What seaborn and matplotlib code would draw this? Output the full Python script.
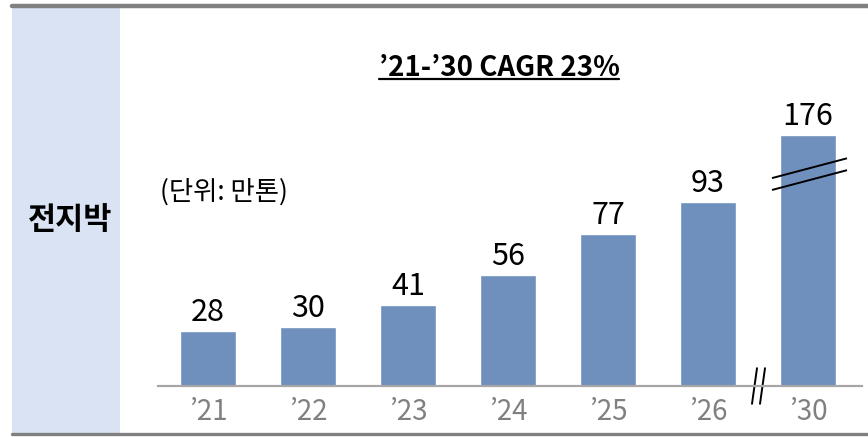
import matplotlib
matplotlib.use("Agg")
import matplotlib.pyplot as plt
import seaborn as sns
import pandas as pd
from matplotlib.lines import Line2D
from matplotlib.patches import Rectangle

# chart data
years = ["\u201921", "\u201922", "\u201923", "\u201924", "\u201925", "\u201926", "\u201930"]
values = [28, 30, 41, 56, 77, 93, 176]
break_height = 127  # drawn height of the broken '30 bar
title = "\u201921-\u201930 CAGR 23%"
unit_label = "(단위: 만톤)"
side_label = "전지박"

sns.set_theme(style="white")
plt.rcParams['font.family'] = ['Noto Sans CJK KR', 'DejaVu Sans']

df = pd.DataFrame({"year": years, "value": values})
df["shown"] = df["value"].clip(upper=break_height)

W, H = 868, 437
fig = plt.figure(figsize=(W / 100, H / 100), dpi=100)

# left label panel and frame lines
fig.patches.append(Rectangle((12 / W, 4 / H), 108 / W, 426 / H, transform=fig.transFigure,
                             facecolor="#DAE3F3", edgecolor="none", zorder=0))
fig.add_artist(Line2D([12 / W, 1], [1 - 6 / H] * 2, color="#808080", lw=3.2))
fig.add_artist(Line2D([12 / W, 1], [1 - 434 / H] * 2, color="#808080", lw=2.4))
fig.text(70 / W, 1 - 220 / H, side_label, ha="center", va="center",
         fontsize=22, fontweight="bold", color="black")

ax = fig.add_axes([158 / W, 51 / H, 704 / W, 326 / H])
sns.barplot(data=df, x="year", y="shown", color="#6F8FBD", saturation=1,
            width=0.56, ax=ax)
ax.set_xlim(-0.5, 6.54)
ax.set_ylim(0, 326 / 1.98)
for s in ["top", "right", "left"]:
    ax.spines[s].set_visible(False)
ax.spines["bottom"].set_color("#A6A6A6")
ax.spines["bottom"].set_linewidth(1.6)
ax.set_yticks([])
ax.set_xlabel("")
ax.set_ylabel("")
ax.tick_params(axis="x", length=0, pad=8, labelsize=20, labelcolor="#808080")
ax.patch.set_alpha(0)

# value labels
for i, (v, s) in enumerate(zip(df["value"], df["shown"])):
    ax.annotate(str(v), (i, s), xytext=(0, 2), textcoords="offset points",
                ha="center", va="bottom", fontsize=22, color="black")

# break marks on the '30 bar
n = len(years) - 1
for dy in (0, -6):
    ax.plot([n - 0.36, n + 0.39], [105 + dy, 115 + dy], color="black", lw=1.4,
            clip_on=False, solid_capstyle="butt")
# break marks on the x axis
for dx in (-0.06, 0.02):
    ax.plot([n - 0.5 + dx + 0.05, n - 0.5 + dx], [9, -9], color="black", lw=1.4,
            clip_on=False)

# title with underline
t = fig.text(499 / W, 1 - 68 / H, title, ha="center", va="center",
             fontsize=20, fontweight="bold", color="black")
fig.canvas.draw()
bb = t.get_window_extent().transformed(fig.transFigure.inverted())
fig.add_artist(Line2D([bb.x0, bb.x1], [bb.y0 + 3 / H] * 2, color="black", lw=1.6))

fig.text(160 / W, 1 - 192 / H, unit_label, ha="left", va="center",
         fontsize=19, color="black")

fig.savefig("out.png", dpi=100)
